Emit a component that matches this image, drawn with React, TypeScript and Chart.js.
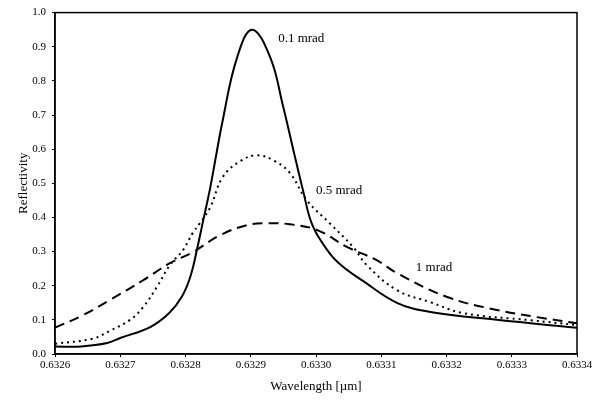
import React, { useEffect, useRef } from "react";
import { Chart, registerables } from "chart.js";

Chart.register(...registerables);

const xTicks = [0.6326, 0.6327, 0.6328, 0.6329, 0.633, 0.6331, 0.6332, 0.6333, 0.6334];
const yTicks = [0, 0.1, 0.2, 0.3, 0.4, 0.5, 0.6, 0.7, 0.8, 0.9, 1.0];

const solidX = [0.6326, 0.63264, 0.63268, 0.6327, 0.632746, 0.632775, 0.632795, 0.632808, 0.632818, 0.632827, 0.632838, 0.632857, 0.632879, 0.632902, 0.63293, 0.632949, 0.632965, 0.63298, 0.632995, 0.633021, 0.63304, 0.633072, 0.633124, 0.633175, 0.633277, 0.6334];
const solidY = [0.022, 0.022, 0.032, 0.047, 0.079, 0.12, 0.17, 0.23, 0.31, 0.39, 0.488, 0.684, 0.868, 0.95, 0.868, 0.73, 0.6, 0.48, 0.375, 0.295, 0.258, 0.214, 0.15, 0.123, 0.1, 0.077];

const dotX = [0.6326, 0.632658, 0.632684, 0.632715, 0.632735, 0.632756, 0.632776, 0.632796, 0.632811, 0.632822, 0.632838, 0.632857, 0.632884, 0.63291, 0.632937, 0.63296, 0.632986, 0.633021, 0.633057, 0.633078, 0.633124, 0.633175, 0.633225, 0.633328, 0.6334];
const dotY = [0.03, 0.045, 0.068, 0.1, 0.137, 0.196, 0.26, 0.304, 0.354, 0.383, 0.43, 0.518, 0.565, 0.582, 0.565, 0.53, 0.45, 0.383, 0.313, 0.26, 0.187, 0.152, 0.12, 0.099, 0.085];

const dashX = [0.6326, 0.632643, 0.632684, 0.632735, 0.632776, 0.632811, 0.632853, 0.632894, 0.632925, 0.63296, 0.633002, 0.633048, 0.633093, 0.633124, 0.633201, 0.633277, 0.633339, 0.6334];
const dashY = [0.077, 0.114, 0.158, 0.216, 0.266, 0.298, 0.348, 0.377, 0.383, 0.38, 0.363, 0.313, 0.275, 0.237, 0.167, 0.129, 0.108, 0.09];

const labelTexts = ["0.1 mrad", "0.5 mrad", "1 mrad"];
const labelX = [0.632942, 0.633, 0.633153];
const labelY = [0.924, 0.48, 0.254];

const FONT = "'Liberation Serif', 'DejaVu Serif', serif";

const toPts = (xs: number[], ys: number[]) => xs.map((x, i) => ({ x, y: ys[i] }));

const framePlugin = {
  id: "frameAndLabels",
  afterDatasetsDraw(chart: any) {
    const { ctx, chartArea, scales } = chart;
    ctx.save();
    ctx.strokeStyle = "#000";
    ctx.lineWidth = 1.5;
    ctx.strokeRect(chartArea.left, chartArea.top, chartArea.right - chartArea.left, chartArea.bottom - chartArea.top);
    ctx.fillStyle = "#000";
    ctx.font = `13px ${FONT}`;
    ctx.textAlign = "left";
    ctx.textBaseline = "middle";
    labelTexts.forEach((t, i) => {
      ctx.fillText(t, scales.x.getPixelForValue(labelX[i]), scales.y.getPixelForValue(labelY[i]));
    });
    ctx.restore();
  },
};

export default function App() {
  const ref = useRef<HTMLCanvasElement>(null);
  useEffect(() => {
    if (!ref.current) return;
    const chart = new Chart(ref.current, {
      type: "scatter",
      data: {
        datasets: [
          {
            label: "0.1 mrad",
            data: toPts(solidX, solidY),
            showLine: true,
            borderColor: "#000",
            borderWidth: 2,
            pointRadius: 0,
            tension: 0.4,
          },
          {
            label: "0.5 mrad",
            data: toPts(dotX, dotY),
            showLine: true,
            borderColor: "#000",
            borderWidth: 2,
            borderDash: [2, 4],
            pointRadius: 0,
            tension: 0.4,
          },
          {
            label: "1 mrad",
            data: toPts(dashX, dashY),
            showLine: true,
            borderColor: "#000",
            borderWidth: 2,
            borderDash: [10, 6],
            pointRadius: 0,
            tension: 0.4,
          },
        ] as any,
      },
      options: {
        animation: false,
        responsive: false,
        layout: { padding: { top: 12, right: 20, left: 12, bottom: 2 } },
        plugins: { legend: { display: false }, tooltip: { enabled: false } },
        scales: {
          x: {
            type: "linear",
            min: 0.6326,
            max: 0.6334,
            afterBuildTicks: (axis: any) => {
              axis.ticks = xTicks.map((v) => ({ value: v }));
            },
            afterFit: (axis: any) => {
              axis.height = 44;
            },
            ticks: {
              color: "#000",
              font: { family: FONT, size: 11 },
              maxRotation: 0,
              autoSkip: false,
              padding: 2,
              callback: (v: any) => Number(v).toFixed(4),
            },
            grid: { display: true, drawOnChartArea: false, tickLength: 3, color: "#000" },
            border: { color: "#000", width: 1.5 },
            title: { display: true, text: "Wavelength [µm]", color: "#000", font: { family: FONT, size: 13 }, padding: { top: 6 } },
          },
          y: {
            type: "linear",
            min: 0,
            max: 1,
            afterBuildTicks: (axis: any) => {
              axis.ticks = yTicks.map((v) => ({ value: v }));
            },
            afterFit: (axis: any) => {
              axis.width = 43;
            },
            ticks: {
              color: "#000",
              font: { family: FONT, size: 11 },
              padding: 6,
              callback: (v: any) => Number(v).toFixed(1),
            },
            grid: { display: true, drawOnChartArea: false, tickLength: 3, color: "#000" },
            border: { color: "#000", width: 1.5 },
            title: { display: true, text: "Reflectivity", color: "#000", font: { family: FONT, size: 13 }, padding: { bottom: 0 } },
          },
        },
      },
      plugins: [framePlugin],
    });
    return () => chart.destroy();
  }, []);
  return (
    <div style={{ position: "absolute", left: 0, top: 0, width: 597, height: 400, background: "#fff" }}>
      <canvas ref={ref} width={597} height={400} style={{ width: 597, height: 400 }} />
    </div>
  );
}
